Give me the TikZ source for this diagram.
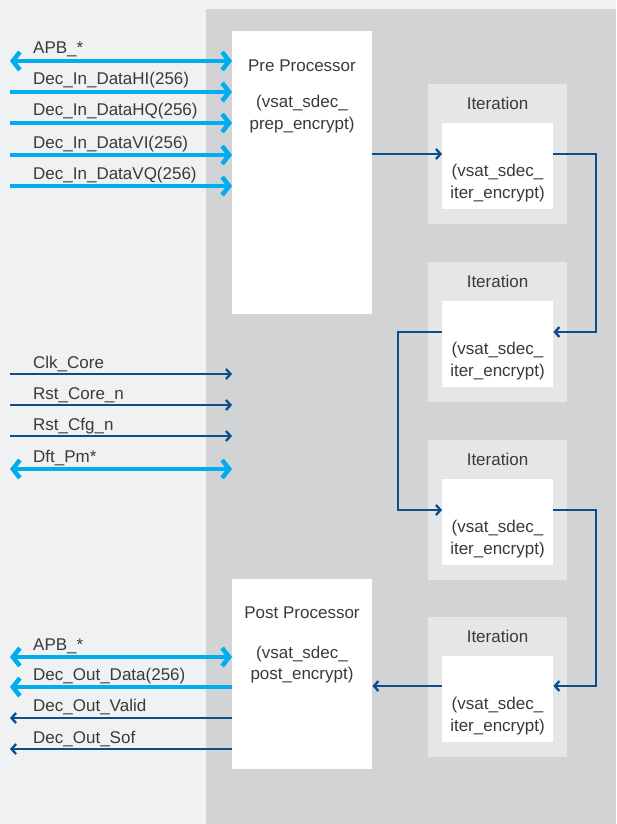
\documentclass[tikz,border=0pt]{standalone}
\usepackage{fontspec}
\setmainfont{Liberation Sans}
\usetikzlibrary{arrows.meta}
\definecolor{bgl}{HTML}{F0F1F3}
\definecolor{panel}{HTML}{D1D3D5}
\definecolor{iterbg}{HTML}{E5E6E8}
\definecolor{dblue}{HTML}{0B4D8C}
\definecolor{cyanb}{HTML}{00AEEF}
\definecolor{txt}{HTML}{3A3A3A}
\tikzset{
  lbl/.style={text=txt, font=\fontsize{17}{21.5}\selectfont, inner sep=0pt},
  sig/.style={text=txt, font=\fontsize{17}{21.5}\selectfont, inner sep=0pt, anchor=base west},
  whitebox/.style={fill=white, draw=none, inner sep=0pt, anchor=north west},
  iterbox/.style={fill=iterbg, draw=none, inner sep=0pt, anchor=north west, minimum width=139pt, minimum height=140pt},
  innerbox/.style={fill=white, draw=none, inner sep=0pt, anchor=north west, minimum width=111pt, minimum height=86pt},
  bus/.style={draw=cyanb, line width=4.5pt},
  busend/.style={-{Straight Barb[length=7pt,width=18pt,line width=4.5pt]}},
  busboth/.style={{Straight Barb[length=7pt,width=18pt,line width=4.5pt]}-{Straight Barb[length=7pt,width=18pt,line width=4.5pt]}},
  wire/.style={draw=dblue, line width=2.3pt},
  wireend/.style={-{Straight Barb[length=4.5pt,width=10pt,line width=2.3pt]}},
}
\begin{document}
\begin{tikzpicture}[x=1pt,y=-1pt]
\useasboundingbox (0,0) rectangle (616,824);
% backgrounds
\fill[bgl] (0,0) rectangle (616,824);
\fill[panel] (206,9) rectangle (616,824);

% pre processor
\node[whitebox, minimum width=140pt, minimum height=283pt] (pre) at (232,31) {};
\node[lbl] (pretitle) at (302,66) {Pre Processor};
\node[lbl, align=center] (pretext) at (302,114) {(vsat\_sdec\_\\prep\_encrypt)};

% post processor
\node[whitebox, minimum width=140pt, minimum height=190pt] (post) at (232,579) {};
\node[lbl] (posttitle) at (302,613) {Post Processor};
\node[lbl, align=center] (posttext) at (302,664.5) {(vsat\_sdec\_\\post\_encrypt)};

% iterations
\foreach \i/\y in {1/84,2/262,3/440,4/617} {
  \node[iterbox] (it\i) at (428,\y) {};
  \node[innerbox] (in\i) at (442,\y+39) {};
  \node[lbl] (itl\i) at (497.5,\y+19.5) {Iteration};
  \node[lbl, align=center] (itt\i) at (497.5,\y+99) {(vsat\_sdec\_\\iter\_encrypt)};
}

% chain connectors
\draw[wire, wireend] (pre.east |- 0,154) -- (in1.west |- 0,154);
\draw[wire, wireend] (in1.east |- 0,154) -- (596,154) -- (596,332) -- (in2.east |- 0,332);
\draw[wire, wireend] (in2.west |- 0,332) -- (398,332) -- (398,510) -- (in3.west |- 0,510);
\draw[wire, wireend] (in3.east |- 0,510) -- (596,510) -- (596,686) -- (in4.east |- 0,686);
\draw[wire, wireend] (in4.west |- 0,686) -- (post.east |- 0,686);

% left free ends
\foreach \n/\y in {a/61,b/92,c/123,d/155,e/186,f/374,g/405,h/436,k/469,m/657,p/687,q/718,r/749} {
  \coordinate (L\n) at (10,\y);
  \coordinate (R\n) at (232,\y);
}

% input buses
\draw[bus, busboth] (La) -- (Ra);
\node[sig] (sa) at (33,54) {APB\_*};
\draw[bus, busend] (Lb) -- (Rb);
\node[sig] (sb) at (33,85) {Dec\_In\_DataHI(256)};
\draw[bus, busend] (Lc) -- (Rc);
\node[sig] (sc) at (33,116) {Dec\_In\_DataHQ(256)};
\draw[bus, busend] (Ld) -- (Rd);
\node[sig] (sd) at (33,148) {Dec\_In\_DataVI(256)};
\draw[bus, busend] (Le) -- (Re);
\node[sig] (se) at (33,179) {Dec\_In\_DataVQ(256)};

% control wires
\draw[wire, wireend] (Lf) -- (Rf);
\node[sig] (sf) at (33,368) {Clk\_Core};
\draw[wire, wireend] (Lg) -- (Rg);
\node[sig] (sg) at (33,399) {Rst\_Core\_n};
\draw[wire, wireend] (Lh) -- (Rh);
\node[sig] (sh) at (33,430) {Rst\_Cfg\_n};
\draw[bus, busboth] (Lk) -- (Rk);
\node[sig] (sk) at (33,462) {Dft\_Pm*};

% outputs
\draw[bus, busboth] (Lm) -- (Rm);
\node[sig] (sm) at (33,650) {APB\_*};
\draw[bus, busend] (Rp) -- (Lp);
\node[sig] (sp) at (33,680) {Dec\_Out\_Data(256)};
\draw[wire, wireend] (Rq) -- (Lq);
\node[sig] (sq) at (33,711) {Dec\_Out\_Valid};
\draw[wire, wireend] (Rr) -- (Lr);
\node[sig] (sr) at (33,743) {Dec\_Out\_Sof};
\end{tikzpicture}
\end{document}
